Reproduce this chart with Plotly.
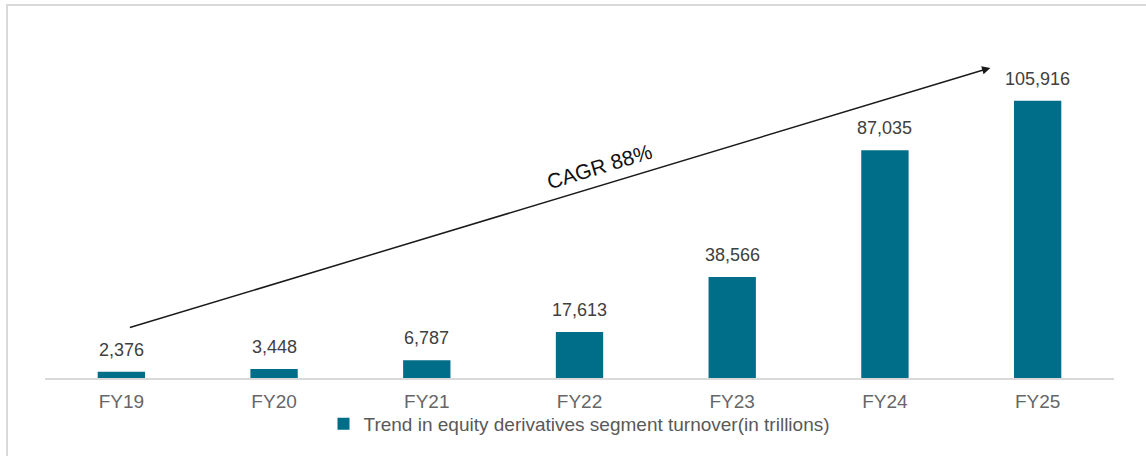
import plotly.graph_objects as go

# Equity derivatives segment turnover by fiscal year (in trillions)
years = ["FY19", "FY20", "FY21", "FY22", "FY23", "FY24", "FY25"]
turnover = [2376, 3448, 6787, 17613, 38566, 87035, 105916]
series_name = "Trend in equity derivatives segment turnover(in trillions)"
cagr_label = "CAGR 88%"

BAR = "#006E89"
FONT = "Liberation Sans, Arial, sans-serif"

W, H = 1146, 456
M_L, M_R, M_T, M_B = 45, 32, 64, 78
Y_MAX = 120000

fig = go.Figure()
fig.add_trace(go.Bar(
    x=years, y=turnover, name=series_name,
    marker=dict(color=BAR, line=dict(width=0)),
    width=0.31,
    showlegend=True,
))

# value labels above each bar
for yr, v in zip(years, turnover):
    fig.add_annotation(
        x=yr, y=v, xref="x", yref="y",
        text=f"{v:,}", showarrow=False,
        yanchor="bottom", yshift=10,
        font=dict(family=FONT, size=18, color="#404040"),
    )

# growth arrow spanning the series
fig.add_annotation(
    x=5.69, y=118500, ax=0.046, ay=19100,
    xref="x", yref="y", axref="x", ayref="y",
    text="", showarrow=True,
    arrowhead=2, arrowsize=1.1, arrowwidth=1.5, arrowcolor="#1a1a1a",
)
fig.add_annotation(
    x=3.13, y=81000, xref="x", yref="y",
    text=cagr_label, showarrow=False, textangle=-17,
    font=dict(family=FONT, size=21, color="#111111"),
)

# frame around the chart (top and left edges visible)
pw = W - M_L - M_R
ph = H - M_T - M_B
x_left = (7 - M_L) / pw
y_top = (H - M_B - 5) / ph
x_right = (W + 5 - M_L) / pw
y_bottom = (H - M_B - H - 5) / ph
fig.add_shape(
    type="rect", xref="paper", yref="paper",
    x0=x_left, x1=x_right, y0=y_bottom, y1=y_top,
    line=dict(color="#d9d9d9", width=2), fillcolor="rgba(0,0,0,0)",
    layer="below",
)

fig.update_layout(
    width=W, height=H,
    margin=dict(l=M_L, r=M_R, t=M_T, b=M_B),
    paper_bgcolor="white", plot_bgcolor="white",
    font=dict(family=FONT, color="#595959"),
    xaxis=dict(
        showline=True, linecolor="#d9d9d9", linewidth=1.5,
        showgrid=False, ticks="", ticklabelstandoff=5,
        tickfont=dict(size=19, color="#666666"),
    ),
    yaxis=dict(range=[0, Y_MAX], visible=False, showgrid=False),
    legend=dict(
        orientation="h", x=0.5, xanchor="center",
        y=-0.146, yanchor="middle",
        bgcolor="rgba(0,0,0,0)",
        font=dict(size=19, color="#595959"),
        itemwidth=30,
    ),
)

fig.write_html("out.html")
